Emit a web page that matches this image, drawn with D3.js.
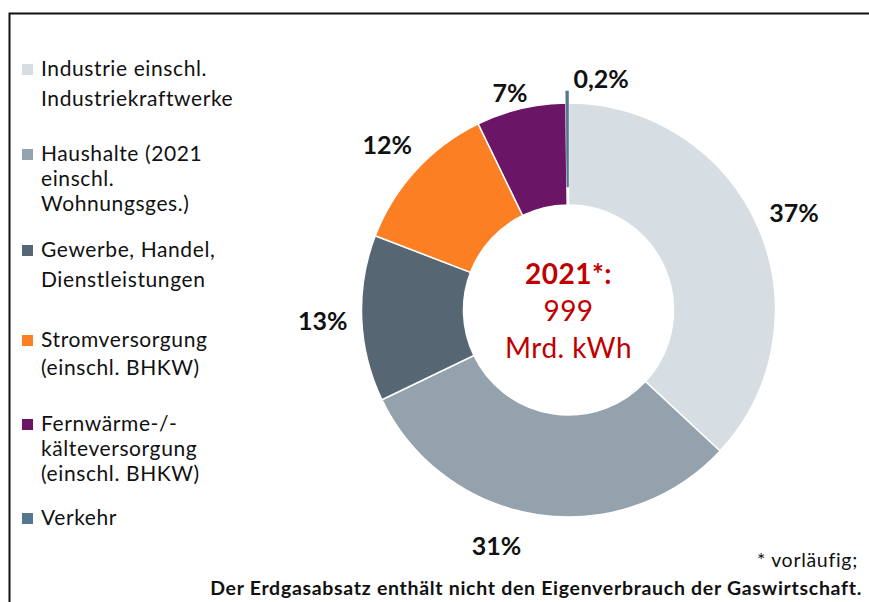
<!DOCTYPE html>
<html lang="de">
  <head>
    <meta charset="UTF-8">
    <title>Erdgasabsatz 2021</title>
    <style>
      body { margin: 0; background: #fff; }
      svg text { font-family: Lato, "Open Sans", sans-serif; fill: #111; }
      .legend text { font-size: 21px; letter-spacing: 0.6px; }
      .pct { font-size: 25px; font-weight: bold; }
      .center text { fill: #c00000; font-size: 28px; letter-spacing: 0.5px; }
      .note { font-size: 19.5px; letter-spacing: 0.7px; }
    </style>
    <script src="https://d3js.org/d3.v7.min.js"></script>
  </head>
  <body>
    <script>
      // data
      const categories = ["Industrie", "Haushalte", "Gewerbe/Handel/DL", "Stromversorgung", "Fernwärme/-kälte", "Verkehr"];
      const shares = [37, 31, 13, 12, 7, 0.2];
      const shareLabels = ["37%", "31%", "13%", "12%", "7%", "0,2%"];
      const colors = ["#d6dde3", "#94a2ad", "#576673", "#fd7f23", "#6b1566", "#54778f"];
      const legendLines = [
        ["Industrie einschl.", "Industriekraftwerke"],
        ["Haushalte (2021", "einschl.", "Wohnungsges.)"],
        ["Gewerbe, Handel,", "Dienstleistungen"],
        ["Stromversorgung", "(einschl. BHKW)"],
        ["Fernwärme-/-", "kälteversorgung", "(einschl. BHKW)"],
        ["Verkehr"]
      ];
      const centerLines = ["2021*:", "999", "Mrd. kWh"];
      const footnote = "* vorläufig;";
      const footnoteBold = "Der Erdgasabsatz enthält nicht den Eigenverbrauch der Gaswirtschaft.";

      const width = 869, height = 602;
      const cx = 568.5, cy = 310;
      const rOuter = 207, rInner = 105;

      const svg = d3.select("body").append("svg")
        .attr("width", width)
        .attr("height", height);

      // frame
      svg.append("path")
        .attr("d", `M9.5,${height} V13.5 H${width}`)
        .attr("fill", "none")
        .attr("stroke", "#111")
        .attr("stroke-width", 2);

      const pie = d3.pie().sort(null).value(d => d);
      const arcs = pie(shares);

      const arc = d3.arc().innerRadius(rInner).outerRadius(rOuter);
      // the tiny slice is drawn as a longer needle so it stays visible
      const needleArc = d3.arc().innerRadius(123).outerRadius(219);

      const g = svg.append("g").attr("transform", `translate(${cx},${cy})`);

      g.selectAll("path.slice")
        .data(arcs.filter((d, i) => i < 5))
        .enter()
        .append("path")
        .attr("class", "slice")
        .attr("d", arc)
        .attr("fill", (d, i) => colors[i])
        .attr("stroke", "#fff")
        .attr("stroke-width", 1.5);

      g.append("path")
        .datum(arcs[5])
        .attr("d", needleArc)
        .attr("fill", colors[5])
        .attr("stroke", colors[5])
        .attr("stroke-width", 0.6);

      // percent labels, radial with a few hand nudges
      const labelR = 246;
      const nudge = { 1: { angle: 197 }, 4: { angle: 345, r: 226 }, 5: { angle: 8, r: 234 } };
      g.selectAll("text.pct")
        .data(arcs)
        .enter()
        .append("text")
        .attr("class", "pct")
        .attr("text-anchor", "middle")
        .attr("dominant-baseline", "central")
        .attr("transform", (d, i) => {
          const n = nudge[i] || {};
          const a = n.angle != null ? n.angle * Math.PI / 180 : (d.startAngle + d.endAngle) / 2;
          const r = n.r || labelR;
          return `translate(${r * Math.sin(a)},${-r * Math.cos(a)})`;
        })
        .text((d, i) => shareLabels[i]);

      // center text
      const center = g.append("g").attr("class", "center");
      center.selectAll("text")
        .data(centerLines)
        .enter()
        .append("text")
        .attr("text-anchor", "middle")
        .attr("y", (d, i) => -26 + i * 37)
        .attr("font-weight", (d, i) => i === 0 ? "bold" : "normal")
        .text(d => d);

      // legend
      const legendLayout = [
        { y: 76, lh: 30 },
        { y: 161, lh: 25 },
        { y: 257, lh: 30 },
        { y: 347, lh: 28 },
        { y: 431, lh: 25 },
        { y: 525, lh: 25 }
      ];
      const legend = svg.append("g").attr("class", "legend");
      const items = legend.selectAll("g")
        .data(legendLines)
        .enter()
        .append("g")
        .attr("transform", (d, i) => `translate(22,${legendLayout[i].y})`);

      items.append("rect")
        .attr("x", 0)
        .attr("y", -12)
        .attr("width", 11)
        .attr("height", 11)
        .attr("fill", (d, i) => colors[i]);

      items.append("text")
        .attr("x", 19)
        .each(function (lines, i) {
          d3.select(this).selectAll("tspan")
            .data(lines)
            .enter()
            .append("tspan")
            .attr("x", 19)
            .attr("y", (l, j) => j * legendLayout[i].lh)
            .text(l => l);
        });

      // notes
      svg.append("text")
        .attr("class", "note")
        .attr("text-anchor", "end")
        .attr("x", 858)
        .attr("y", 567)
        .text(footnote);

      svg.append("text")
        .attr("class", "note")
        .attr("text-anchor", "end")
        .attr("x", 862)
        .attr("y", 595)
        .attr("font-weight", "bold")
        .text(footnoteBold);
    </script>
  </body>
</html>
